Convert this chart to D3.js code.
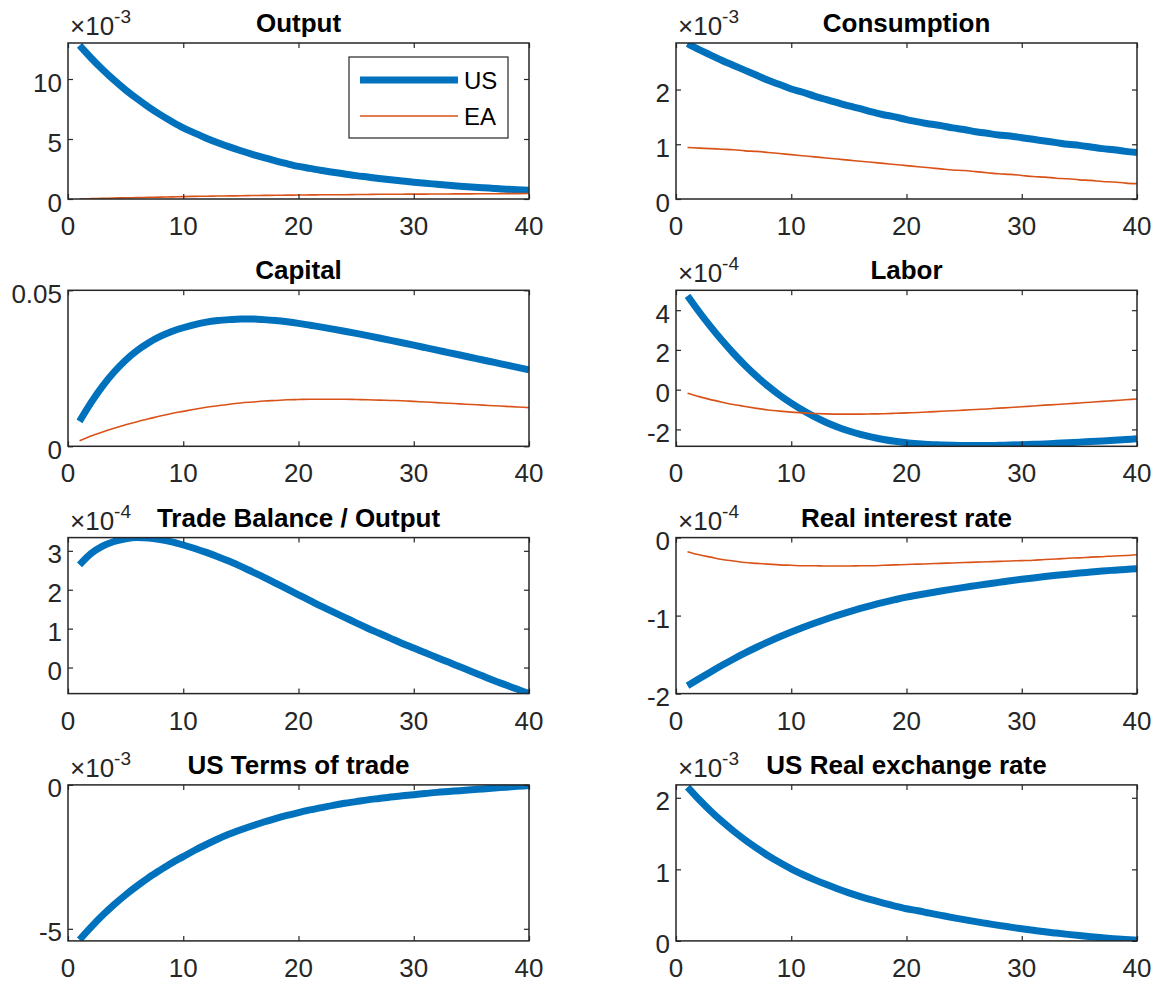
<!DOCTYPE html>
<html>
<head>
<meta charset="utf-8">
<script src="https://cdn.jsdelivr.net/npm/d3@7"></script>
<style>
  body { margin: 0; background: #fff; }
  svg { display: block; }
  text { font-family: 'Liberation Sans', Arial, Helvetica, sans-serif; }
</style>
</head>
<body>
<svg id="irf-svg" width="1158" height="982"></svg>
<script>
'use strict'

// horizon (quarters after the shock)
var periods = [1, 2, 3, 4, 5, 6, 7, 8, 9, 10, 11, 12, 13, 14, 15, 16, 17, 18, 19, 20,
  21, 22, 23, 24, 25, 26, 27, 28, 29, 30, 31, 32, 33, 34, 35, 36, 37, 38, 39, 40]
var xTicks = [0, 10, 20, 30, 40]

// Output, x 1e-3
var outputUS = [12.80, 11.75, 10.79, 9.90, 9.09, 8.35, 7.66, 7.03, 6.46, 5.93,
  5.49, 5.07, 4.69, 4.34, 4.02, 3.72, 3.44, 3.18, 2.94, 2.72,
  2.55, 2.38, 2.23, 2.09, 1.95, 1.83, 1.71, 1.60, 1.50, 1.40,
  1.31, 1.23, 1.15, 1.07, 1.00, 0.94, 0.88, 0.82, 0.77, 0.72]
var outputEA = [0.00, 0.03, 0.05, 0.08, 0.10, 0.12, 0.14, 0.16, 0.18, 0.20,
  0.22, 0.23, 0.25, 0.26, 0.27, 0.29, 0.30, 0.31, 0.32, 0.33,
  0.34, 0.35, 0.36, 0.36, 0.37, 0.38, 0.39, 0.39, 0.40, 0.41,
  0.41, 0.42, 0.42, 0.43, 0.43, 0.44, 0.44, 0.45, 0.45, 0.46]
var outputYLim = [0, 13]
var outputTicks = [0, 5, 10]

// Consumption, x 1e-3
var consumptionUS = [2.84, 2.73, 2.63, 2.53, 2.44, 2.35, 2.26, 2.17, 2.09, 2.01,
  1.95, 1.88, 1.82, 1.76, 1.70, 1.65, 1.59, 1.54, 1.50, 1.45,
  1.41, 1.37, 1.34, 1.30, 1.27, 1.23, 1.20, 1.17, 1.15, 1.12,
  1.09, 1.06, 1.03, 1.00, 0.98, 0.95, 0.92, 0.90, 0.87, 0.85]
var consumptionEA = [0.94, 0.93, 0.92, 0.91, 0.90, 0.88, 0.87, 0.85, 0.83, 0.81,
  0.79, 0.77, 0.75, 0.73, 0.71, 0.69, 0.67, 0.65, 0.63, 0.61,
  0.59, 0.57, 0.55, 0.53, 0.52, 0.50, 0.48, 0.46, 0.45, 0.43,
  0.41, 0.40, 0.38, 0.37, 0.35, 0.34, 0.32, 0.31, 0.29, 0.28]
var consumptionYLim = [0, 2.85]
var consumptionTicks = [0, 1, 2]

// Capital (no scaling)
var capitalUS = [0.0080, 0.0140, 0.0193, 0.0238, 0.0276, 0.0307, 0.0332, 0.0352, 0.0368, 0.0380,
  0.0390, 0.0398, 0.0403, 0.0406, 0.0408, 0.0408, 0.0406, 0.0403, 0.0399, 0.0394,
  0.0388, 0.0382, 0.03755, 0.03688, 0.03618, 0.03546, 0.03472, 0.03396, 0.03319, 0.03241,
  0.03162, 0.03083, 0.03004, 0.02925, 0.02846, 0.02767, 0.02688, 0.02609, 0.02530, 0.02451]
var capitalEA = [0.0018, 0.0033, 0.0046, 0.0058, 0.0069, 0.0079, 0.0088, 0.0097, 0.0105, 0.0112,
  0.0119, 0.0125, 0.0130, 0.0135, 0.0139, 0.0142, 0.0145, 0.0147, 0.0149, 0.0150,
  0.0151, 0.0151, 0.0151, 0.0151, 0.0150, 0.0149, 0.0148, 0.0147, 0.0146, 0.0144,
  0.0142, 0.0140, 0.0138, 0.0136, 0.0134, 0.0132, 0.0130, 0.0128, 0.0126, 0.0124]
var capitalYLim = [0, 0.05]
var capitalTicks = [0, 0.05]

// Labor, x 1e-4
var laborUS = [4.72, 3.92, 3.17, 2.47, 1.82, 1.22, 0.67, 0.17, -0.28, -0.68,
  -1.04, -1.36, -1.64, -1.88, -2.08, -2.25, -2.39, -2.51, -2.60, -2.67,
  -2.72, -2.76, -2.78, -2.80, -2.81, -2.81, -2.81, -2.80, -2.79, -2.77,
  -2.75, -2.73, -2.70, -2.67, -2.64, -2.61, -2.58, -2.55, -2.51, -2.47]
var laborEA = [-0.18, -0.35, -0.50, -0.63, -0.75, -0.85, -0.94, -1.02, -1.08, -1.13,
  -1.17, -1.20, -1.22, -1.23, -1.23, -1.23, -1.22, -1.21, -1.19, -1.17,
  -1.15, -1.12, -1.09, -1.06, -1.03, -1.00, -0.97, -0.93, -0.90, -0.86,
  -0.82, -0.78, -0.75, -0.71, -0.67, -0.63, -0.59, -0.55, -0.51, -0.47]
var laborYLim = [-2.85, 5.0]
var laborTicks = [-2, 0, 2, 4]

// Trade balance / output, x 1e-4 (US only)
var tradeBalanceUS = [2.64, 2.93, 3.12, 3.24, 3.31, 3.34, 3.33, 3.29, 3.23, 3.15,
  3.06, 2.96, 2.85, 2.73, 2.60, 2.46, 2.32, 2.17, 2.02, 1.87,
  1.72, 1.57, 1.43, 1.29, 1.15, 1.01, 0.88, 0.75, 0.62, 0.50,
  0.38, 0.26, 0.14, 0.02, -0.10, -0.22, -0.34, -0.45, -0.56, -0.67]
var tradeBalanceYLim = [-0.67, 3.34]
var tradeBalanceTicks = [0, 1, 2, 3]

// Real interest rate, x 1e-4
var realRateUS = [-1.900, -1.810, -1.722, -1.637, -1.556, -1.479, -1.406, -1.337, -1.272, -1.211,
  -1.153, -1.098, -1.046, -0.997, -0.951, -0.908, -0.868, -0.831, -0.796, -0.763,
  -0.736, -0.710, -0.685, -0.661, -0.638, -0.616, -0.594, -0.574, -0.554, -0.535,
  -0.517, -0.500, -0.484, -0.469, -0.455, -0.442, -0.429, -0.418, -0.408, -0.398]
var realRateEA = [-0.18, -0.22, -0.25, -0.28, -0.30, -0.32, -0.33, -0.34, -0.35, -0.355,
  -0.36, -0.36, -0.365, -0.365, -0.365, -0.36, -0.36, -0.355, -0.35, -0.345,
  -0.34, -0.335, -0.33, -0.325, -0.32, -0.315, -0.31, -0.305, -0.30, -0.295,
  -0.29, -0.28, -0.275, -0.265, -0.26, -0.25, -0.245, -0.235, -0.23, -0.22]
var realRateYLim = [-2, 0]
var realRateTicks = [-2, -1, 0]

// US terms of trade, x 1e-3
var termsOfTradeUS = [-5.38, -4.94, -4.53, -4.16, -3.82, -3.51, -3.22, -2.96, -2.71, -2.49,
  -2.27, -2.07, -1.88, -1.71, -1.56, -1.42, -1.29, -1.17, -1.06, -0.96,
  -0.87, -0.79, -0.71, -0.64, -0.58, -0.52, -0.47, -0.42, -0.38, -0.34,
  -0.30, -0.26, -0.23, -0.20, -0.17, -0.14, -0.11, -0.08, -0.05, -0.02]
var termsOfTradeYLim = [-5.42, 0]
var termsOfTradeTicks = [-5, 0]

// US real exchange rate, x 1e-3
var realExchangeUS = [2.150, 1.976, 1.816, 1.669, 1.534, 1.410, 1.296, 1.191, 1.095, 1.006,
  0.928, 0.856, 0.790, 0.729, 0.672, 0.620, 0.572, 0.528, 0.487, 0.450,
  0.421, 0.388, 0.357, 0.326, 0.297, 0.269, 0.243, 0.217, 0.193, 0.170,
  0.149, 0.128, 0.109, 0.091, 0.074, 0.058, 0.044, 0.031, 0.019, 0.009]
var realExchangeYLim = [0, 2.18]
var realExchangeTicks = [0, 1, 2]

var countryNames = ['US', 'EA']

var panels = [
  { title: 'Output', exponent: '-3', yLim: outputYLim, yTicks: outputTicks, series: [outputUS, outputEA], legend: true },
  { title: 'Consumption', exponent: '-3', yLim: consumptionYLim, yTicks: consumptionTicks, series: [consumptionUS, consumptionEA] },
  { title: 'Capital', exponent: null, yLim: capitalYLim, yTicks: capitalTicks, series: [capitalUS, capitalEA] },
  { title: 'Labor', exponent: '-4', yLim: laborYLim, yTicks: laborTicks, series: [laborUS, laborEA] },
  { title: 'Trade Balance / Output', exponent: '-4', yLim: tradeBalanceYLim, yTicks: tradeBalanceTicks, series: [tradeBalanceUS] },
  { title: 'Real interest rate', exponent: '-4', yLim: realRateYLim, yTicks: realRateTicks, series: [realRateUS, realRateEA] },
  { title: 'US Terms of trade', exponent: '-3', yLim: termsOfTradeYLim, yTicks: termsOfTradeTicks, series: [termsOfTradeUS] },
  { title: 'US Real exchange rate', exponent: '-3', yLim: realExchangeYLim, yTicks: realExchangeTicks, series: [realExchangeUS] }
]

// line look of US (thick blue) and EA (thin orange)
var seriesStyle = [
  { color: '#0072BD', width: 7 },
  { color: '#D95319', width: 1.6 }
]

var axisColor = '#262626'
var fontSize = 26
var colLeft = [68, 676]
var colWidth = 461
var rowTop0 = 43
var rowStep = 247.3
var rowHeight = 156
var tickLen = 5

var svg = d3.select('#irf-svg')
var defs = svg.append('defs')

panels.forEach(function (p, i) {
  var left = colLeft[i % 2]
  var top = rowTop0 + Math.floor(i / 2) * rowStep
  var x = d3.scaleLinear().domain([0, 40]).range([0, colWidth])
  var y = d3.scaleLinear().domain(p.yLim).range([rowHeight, 0])

  var g = svg.append('g')
    .attr('class', 'panel')
    .attr('transform', 'translate(' + left + ',' + top + ')')

  defs.append('clipPath')
    .attr('id', 'clip-' + i)
    .append('rect')
    .attr('width', colWidth)
    .attr('height', rowHeight)

  // lines (US first, EA on top, as plotted)
  var line = d3.line()
    .curve(d3.curveMonotoneX)
    .x(function (d, k) { return x(periods[k]) })
    .y(function (d) { return y(d) })
  var plot = g.append('g').attr('clip-path', 'url(#clip-' + i + ')')
  p.series.forEach(function (values, s) {
    plot.append('path')
      .datum(values)
      .attr('d', line)
      .attr('fill', 'none')
      .attr('stroke', seriesStyle[s].color)
      .attr('stroke-width', seriesStyle[s].width)
      .attr('stroke-linejoin', 'round')
  })

  // box with inward ticks on all four sides
  var xAxisB = d3.axisBottom(x).tickValues(xTicks).tickSizeInner(-tickLen).tickSizeOuter(0).tickFormat('')
  var xAxisT = d3.axisTop(x).tickValues(xTicks).tickSizeInner(-tickLen).tickSizeOuter(0).tickFormat('')
  var yAxisL = d3.axisLeft(y).tickValues(p.yTicks).tickSizeInner(-tickLen).tickSizeOuter(0).tickFormat('')
  var yAxisR = d3.axisRight(y).tickValues(p.yTicks).tickSizeInner(-tickLen).tickSizeOuter(0).tickFormat('')
  g.append('g').attr('transform', 'translate(0,' + rowHeight + ')').call(xAxisB)
  g.append('g').call(xAxisT)
  g.append('g').call(yAxisL)
  g.append('g').attr('transform', 'translate(' + colWidth + ',0)').call(yAxisR)
  g.selectAll('.tick line').attr('stroke', axisColor).attr('stroke-width', 1.2)
  g.selectAll('.domain').remove()
  g.append('rect')
    .attr('width', colWidth)
    .attr('height', rowHeight)
    .attr('fill', 'none')
    .attr('stroke', axisColor)
    .attr('stroke-width', 1.5)

  // tick labels
  g.selectAll('.x-label')
    .data(xTicks)
    .enter()
    .append('text')
    .attr('class', 'x-label')
    .attr('x', function (d) { return x(d) })
    .attr('y', rowHeight + 36)
    .attr('text-anchor', 'middle')
    .attr('font-size', fontSize)
    .attr('fill', axisColor)
    .text(function (d) { return String(d) })
  g.selectAll('.y-label')
    .data(p.yTicks)
    .enter()
    .append('text')
    .attr('class', 'y-label')
    .attr('x', -6)
    .attr('y', function (d) { return y(d) + 12.5 })
    .attr('text-anchor', 'end')
    .attr('font-size', fontSize)
    .attr('fill', axisColor)
    .text(function (d) { return String(d) })

  // exponent
  if (p.exponent) {
    var ex = g.append('text')
      .attr('x', 2)
      .attr('y', -8)
      .attr('font-size', fontSize)
      .attr('fill', axisColor)
    ex.append('tspan').text('\u00d710')
    ex.append('tspan')
      .attr('dy', -12)
      .attr('font-size', 19)
      .text(p.exponent)
  }

  // title
  g.append('text')
    .attr('x', colWidth / 2)
    .attr('y', -11)
    .attr('text-anchor', 'middle')
    .attr('font-size', fontSize)
    .attr('font-weight', 'bold')
    .attr('fill', '#000')
    .text(p.title)

  if (p.legend) {
    var lg = g.append('g').attr('transform', 'translate(' + (349 - left) + ',' + (57 - top) + ')')
    lg.append('rect')
      .attr('width', 159)
      .attr('height', 81)
      .attr('fill', '#fff')
      .attr('stroke', axisColor)
      .attr('stroke-width', 1.2)
    countryNames.forEach(function (name, s) {
      var ly = 23 + s * 36
      lg.append('line')
        .attr('x1', 11)
        .attr('x2', 109)
        .attr('y1', ly)
        .attr('y2', ly)
        .attr('stroke', seriesStyle[s].color)
        .attr('stroke-width', seriesStyle[s].width)
      lg.append('text')
        .attr('x', 115)
        .attr('y', ly + 9)
        .attr('font-size', 24)
        .attr('fill', '#000')
        .text(name)
    })
  }
})
</script>
</body>
</html>
